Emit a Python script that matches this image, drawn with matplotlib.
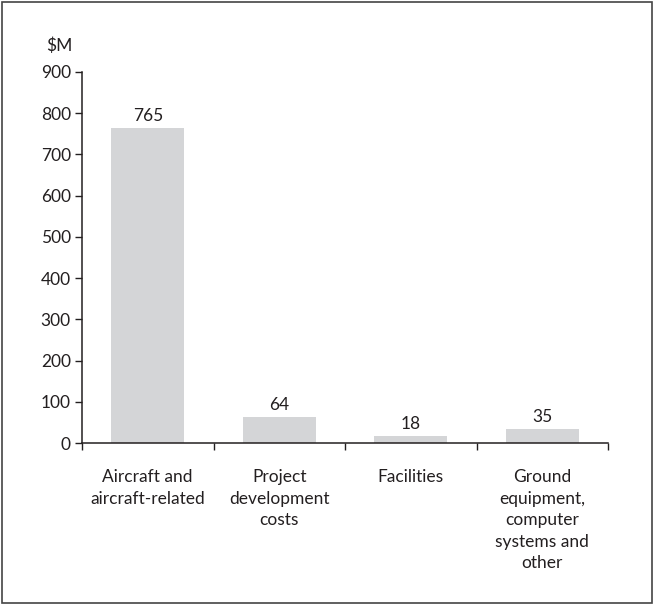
import matplotlib.pyplot as plt
from matplotlib.patches import Rectangle

categories = ['Aircraft and\naircraft-related', 'Project\ndevelopment\ncosts',
              'Facilities', 'Ground\nequipment,\ncomputer\nsystems and\nother']
values = [765, 64, 18, 35]
y_ticks = [0, 100, 200, 300, 400, 500, 600, 700, 800, 900]

plt.rcParams['font.family'] = ['Lato', 'DejaVu Sans']
text_color = '#231f20'
axis_color = '#231f20'
fs = 12.5

fig = plt.figure(figsize=(6.54, 6.05), dpi=100)
ax = fig.add_axes([82 / 654, 1 - 443 / 605, 526 / 654, 371 / 605])

x = list(range(len(categories)))
bars = ax.bar(x, values, width=0.555, color='#d4d5d7', zorder=2)
for b, v in zip(bars, values):
    ax.annotate(str(v), (b.get_x() + b.get_width() / 2, v), xytext=(0, 2.5),
                textcoords='offset points', ha='center', va='bottom',
                fontsize=fs, color=text_color)

ax.set_xlim(-0.5, len(categories) - 0.5)
ax.set_ylim(0, 900)
ax.set_yticks(y_ticks)
ax.tick_params(axis='y', length=5, width=1, color=axis_color,
               labelsize=fs, labelcolor=text_color, pad=3)

# boundary ticks between categories, labels sit under the bar centres
ax.set_xticks([i - 0.5 for i in range(len(categories) + 1)])
ax.set_xticklabels([])
ax.tick_params(axis='x', which='major', length=5, width=1, color=axis_color, direction='out')
ax.set_xticks(x, minor=True)
ax.set_xticklabels(categories, minor=True)
ax.tick_params(axis='x', which='minor', length=0, pad=19, labelsize=fs,
               labelcolor=text_color)
for lbl in ax.get_xticklabels(minor=True):
    lbl.set_verticalalignment('top')
    lbl.set_linespacing(1.42)

for side in ['top', 'right']:
    ax.spines[side].set_visible(False)
for side in ['left', 'bottom']:
    ax.spines[side].set_color(axis_color)
    ax.spines[side].set_linewidth(1.1)

fig.text(46 / 654, 1 - 46 / 605, '$M', fontsize=fs, color=text_color,
         ha='left', va='center')

# outer frame around the figure
fig.patches.append(Rectangle((0.003, 0.003), 0.994, 0.994, transform=fig.transFigure,
                             fill=False, edgecolor='#444444', linewidth=1.2))

fig.savefig('out.png', dpi=100)
